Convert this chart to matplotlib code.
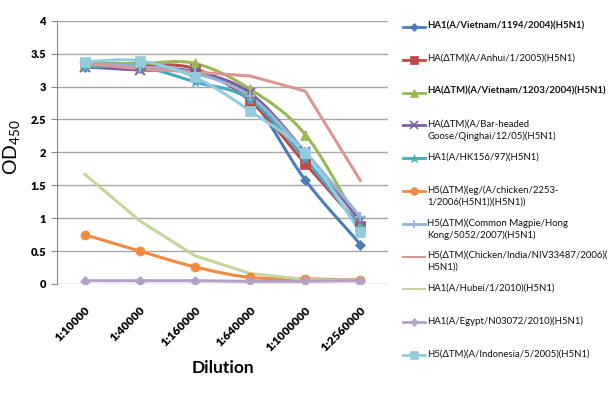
import numpy as np
import matplotlib
matplotlib.use("Agg")
import matplotlib.pyplot as plt
from matplotlib.lines import Line2D

plt.rcParams['font.family'] = ['Lato', 'DejaVu Sans']

dilutions = ["1:10000", "1:40000", "1:160000", "1:640000", "1:1000000", "1:2560000"]

vietnam_1194 = [3.29, 3.28, 3.22, 2.82, 1.58, 0.60]
anhui = [3.35, 3.33, 3.27, 2.78, 1.83, 0.88]
vietnam_1203 = [3.35, 3.35, 3.35, 2.96, 2.27, 0.90]
bar_headed = [3.30, 3.25, 3.22, 2.90, 2.00, 0.95]
hk156 = [3.30, 3.30, 3.07, 2.80, 1.90, 0.85]
egypt_chicken = [0.75, 0.50, 0.26, 0.10, 0.08, 0.06]
magpie = [3.35, 3.30, 3.20, 2.85, 2.00, 1.02]
india = [3.35, 3.27, 3.22, 3.16, 2.93, 1.57]
hubei = [1.67, 0.96, 0.43, 0.16, 0.07, 0.05]
egypt_n03072 = [0.05, 0.05, 0.05, 0.04, 0.04, 0.05]
indonesia = [3.38, 3.39, 3.14, 2.63, 1.99, 0.79]

labels = [
    "HA1(A/Vietnam/1194/2004)(H5N1)",
    "HA(\u0394TM)(A/Anhui/1/2005)(H5N1)",
    "HA(\u0394TM)(A/Vietnam/1203/2004)(H5N1)",
    "HA(\u0394TM)(A/Bar-headed\nGoose/Qinghai/12/05)(H5N1)",
    "HA1(A/HK156/97)(H5N1)",
    "H5(\u0394TM)(eg/(A/chicken/2253-\n1/2006(H5N1))(H5N1))",
    "H5(\u0394TM)(Common Magpie/Hong\nKong/5052/2007)(H5N1)",
    "H5(\u0394TM)(Chicken/India/NIV33487/2006)(\nH5N1))",
    "HA1(A/Hubei/1/2010)(H5N1)",
    "HA1(A/Egypt/N03072/2010)(H5N1)",
    "H5(\u0394TM)(A/Indonesia/5/2005)(H5N1)",
]
series = [vietnam_1194, anhui, vietnam_1203, bar_headed, hk156, egypt_chicken,
          magpie, india, hubei, egypt_n03072, indonesia]
colors = ["#4A7EBB", "#BE4B48", "#98B954", "#7D60A0", "#46AAC5", "#F38A3F",
          "#95B3D7", "#DA9694", "#C3D69B", "#B3A2C7", "#93CDDD"]
markers = ["D", "s", "^", "x", "*", "o", "+", None, None, "D", "s"]
msizes = [5, 6.5, 6.5, 6.5, 7.5, 6.5, 7.5, 0, 0, 5, 7]
smooth = [True, True, True, True, True, True, True, False, False, False, True]
bold = [True, False, True, False, False, False, False, False, False, False, False]


def catmull(x, y, n=24):
    x = np.asarray(x, float)
    y = np.asarray(y, float)
    px = np.concatenate([[2 * x[0] - x[1]], x, [2 * x[-1] - x[-2]]])
    py = np.concatenate([[2 * y[0] - y[1]], y, [2 * y[-1] - y[-2]]])
    ox, oy = [], []
    t = np.linspace(0, 1, n, endpoint=False)
    for i in range(1, len(px) - 2):
        for p, o in ((px, ox), (py, oy)):
            p0, p1, p2, p3 = p[i - 1], p[i], p[i + 1], p[i + 2]
            v = 0.5 * ((2 * p1) + (-p0 + p2) * t + (2 * p0 - 5 * p1 + 4 * p2 - p3) * t ** 2
                       + (-p0 + 3 * p1 - 3 * p2 + p3) * t ** 3)
            o.extend(v)
    ox.append(x[-1])
    oy.append(y[-1])
    return np.array(ox), np.array(oy)


W, H = 614, 395
fig = plt.figure(figsize=(W / 100, H / 100), dpi=100)
ax = fig.add_axes([57 / W, (H - 284) / H, (388 - 57) / W, (284 - 20.7) / H])

xs = np.arange(len(dilutions))
order = [8, 5, 9, 7, 0, 1, 3, 4, 6, 2, 10]
for k in order:
    y = series[k]
    if smooth[k]:
        sx, sy = catmull(xs, y)
    else:
        sx, sy = xs, np.asarray(y)
    ax.plot(sx, sy, color=colors[k], lw=2.2, solid_capstyle='round', zorder=3 + k * 0.01)
    if markers[k]:
        mew = 1.5 if markers[k] in ("x", "+") else 0.5
        ax.plot(xs, y, linestyle='none', marker=markers[k], ms=msizes[k], color=colors[k],
                mec=colors[k], mew=mew, zorder=4 + k * 0.01)

ax.set_xlim(-0.5, 5.5)
ax.set_ylim(0, 4)
ax.set_yticks(np.arange(0, 4.01, 0.5))
ax.set_yticklabels(["0", "0.5", "1", "1.5", "2", "2.5", "3", "3.5", "4"],
                   fontsize=8, fontweight='heavy')
ax.set_xticks(xs)
ax.set_xticklabels(dilutions, rotation=45, ha='right', va='top', rotation_mode='anchor',
                   fontsize=8.5, fontweight='heavy')
ax.tick_params(axis='x', length=0, pad=15)
ax.tick_params(axis='y', length=4, color='#888888', pad=4)
ax.grid(axis='y', color='#a8a8a8', lw=1)
ax.set_axisbelow(True)
for s in ['top', 'right', 'bottom']:
    ax.spines[s].set_visible(False)
ax.spines['left'].set_color('#888888')

ax.set_xlabel("Dilution", fontsize=12.5, fontweight='bold')
ax.xaxis.set_label_coords(0.5, -0.29)
fig.text(1 / W, 1 - 147 / H, r"$\mathregular{OD_{450}}$", rotation=90, fontsize=14,
         ha='left', va='center')

# legend
for i in range(len(series)):
    yy = 1 - (27 + i * 32.8) / H
    x0, x1 = 403 / W, 425 / W
    fig.add_artist(Line2D([x0, x1], [yy, yy], transform=fig.transFigure,
                          color=colors[i], lw=2.0 if markers[i] else 1.5))
    if markers[i]:
        mew = 1.2 if markers[i] in ("x", "+") else 0.5
        fig.add_artist(Line2D([(x0 + x1) / 2], [yy], transform=fig.transFigure,
                              marker=markers[i], ms=msizes[i] * 0.85, color=colors[i],
                              mec=colors[i], mew=mew, linestyle='none'))
    fig.text(427 / W, yy + 5.8 / H, labels[i], fontsize=6.9, ha='left', va='top',
             fontweight='bold' if bold[i] else 'normal', color='#111111',
             linespacing=1.35)

fig.savefig("out.png", dpi=100)
